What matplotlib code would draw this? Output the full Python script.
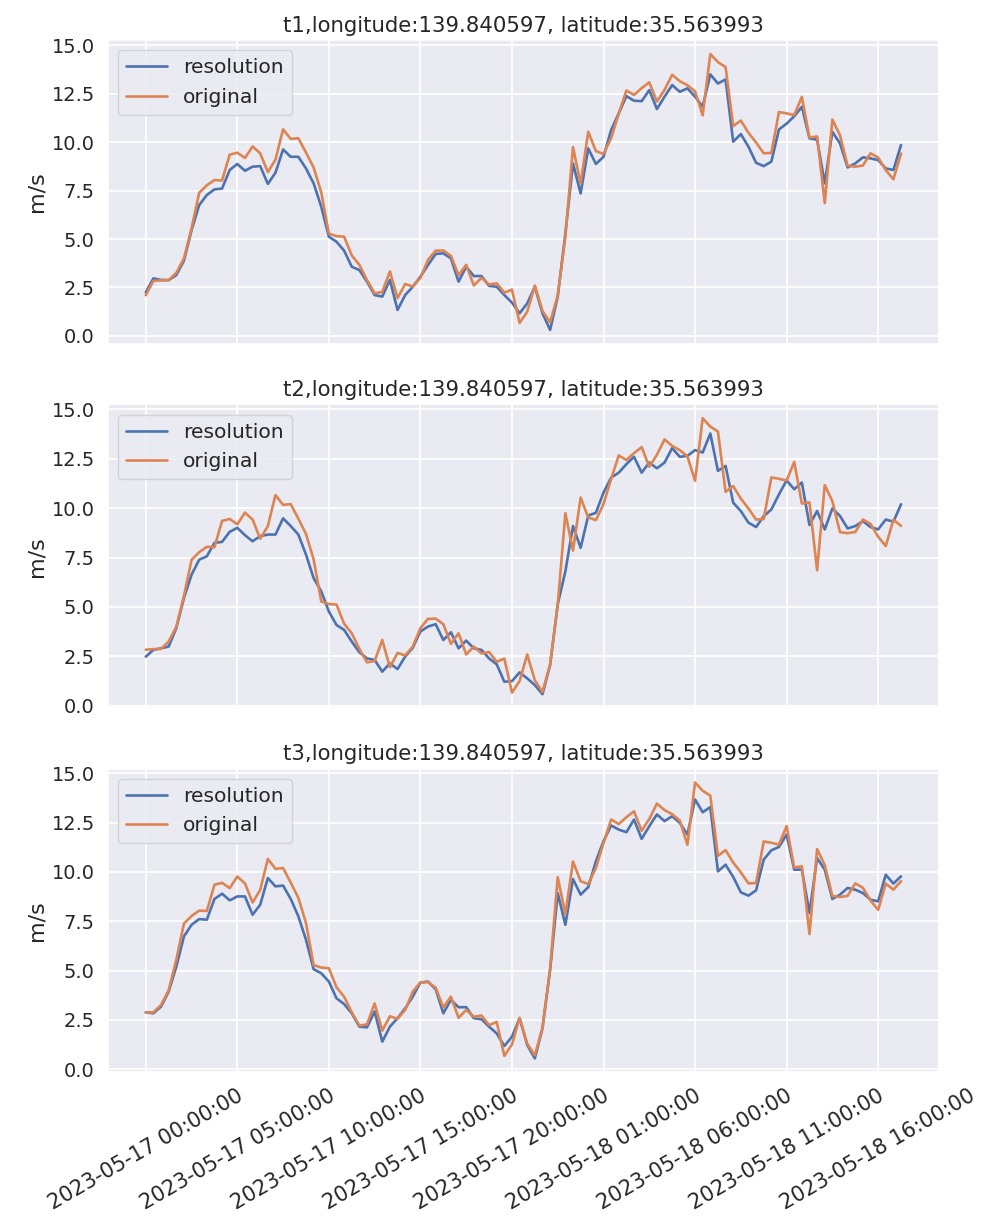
import numpy as np
import pandas as pd
import matplotlib
matplotlib.use("Agg")
import matplotlib.pyplot as plt
import seaborn as sns

# observed wind speed, one long run; each lead time sees it shifted by one step
original = [2.10, 2.84, 2.87, 2.88, 3.25, 4.00, 5.55, 7.38, 7.77, 8.04,
            8.02, 9.35, 9.45, 9.18, 9.77, 9.42, 8.45, 9.09, 10.66, 10.16,
            10.20, 9.46, 8.69, 7.41, 5.28, 5.15, 5.12, 4.15, 3.67, 2.88,
            2.20, 2.27, 3.33, 1.95, 2.68, 2.55, 3.00, 3.93, 4.40, 4.41,
            4.13, 3.13, 3.67, 2.60, 3.00, 2.65, 2.72, 2.23, 2.39, 0.67,
            1.25, 2.60, 1.29, 0.70, 2.10, 5.10, 9.74, 7.85, 10.53, 9.53,
            9.39, 10.20, 11.47, 12.66, 12.43, 12.78, 13.08, 12.09, 12.69, 13.47,
            13.14, 12.93, 12.61, 11.38, 14.54, 14.12, 13.87, 10.82, 11.11, 10.48,
            9.98, 9.42, 9.44, 11.55, 11.48, 11.39, 12.33, 10.23, 10.29, 6.85,
            11.16, 10.35, 8.78, 8.73, 8.79, 9.42, 9.20, 8.55, 8.08, 9.41,
            9.10, 9.53]

res_t1 = [2.25, 2.97, 2.89, 2.88, 3.14, 3.88, 5.46, 6.75, 7.27, 7.56,
          7.60, 8.56, 8.87, 8.52, 8.73, 8.76, 7.84, 8.42, 9.62, 9.24,
          9.24, 8.64, 7.87, 6.67, 5.12, 4.86, 4.40, 3.57, 3.40, 2.80,
          2.11, 2.03, 2.89, 1.34, 2.11, 2.54, 3.06, 3.66, 4.23, 4.26,
          4.00, 2.80, 3.57, 3.09, 3.09, 2.58, 2.54, 2.11, 1.72, 1.17,
          1.68, 2.54, 1.17, 0.31, 2.03, 5.29, 8.90, 7.35, 9.67, 8.87,
          9.24, 10.62, 11.48, 12.37, 12.13, 12.11, 12.68, 11.70, 12.34, 12.94,
          12.59, 12.77, 12.34, 11.82, 13.49, 13.02, 13.23, 10.02, 10.41, 9.76,
          8.93, 8.76, 8.99, 10.65, 10.95, 11.33, 11.82, 10.19, 10.12, 7.87,
          10.53, 9.93, 8.69, 8.90, 9.21, 9.16, 9.07, 8.64, 8.56, 9.85]

res_t2 = [2.49, 2.83, 2.91, 3.00, 3.93, 5.45, 6.63, 7.39, 7.56, 8.24,
          8.29, 8.80, 9.00, 8.63, 8.32, 8.58, 8.66, 8.66, 9.48, 9.09,
          8.66, 7.65, 6.46, 5.79, 4.77, 4.09, 3.84, 3.25, 2.71, 2.40,
          2.32, 1.73, 2.15, 1.86, 2.49, 2.94, 3.76, 4.01, 4.13, 3.33,
          3.72, 2.91, 3.30, 2.91, 2.83, 2.40, 2.10, 1.22, 1.25, 1.69,
          1.39, 1.05, 0.59, 2.06, 5.14, 6.80, 9.09, 7.99, 9.62, 9.76,
          10.78, 11.54, 11.79, 12.22, 12.59, 11.79, 12.30, 12.01, 12.30, 13.03,
          12.59, 12.64, 12.93, 12.81, 13.77, 11.88, 12.13, 10.27, 9.85, 9.26,
          9.04, 9.59, 9.93, 10.69, 11.40, 10.95, 11.29, 9.14, 9.85, 8.92,
          9.98, 9.60, 8.97, 9.09, 9.34, 9.04, 8.92, 9.42, 9.31, 10.19]

res_t3 = [2.88, 2.83, 3.17, 3.93, 5.20, 6.73, 7.32, 7.61, 7.58, 8.63,
          8.90, 8.56, 8.76, 8.76, 7.83, 8.34, 9.69, 9.27, 9.31, 8.63,
          7.75, 6.56, 5.07, 4.86, 4.44, 3.59, 3.30, 2.83, 2.15, 2.12,
          2.92, 1.39, 2.15, 2.58, 3.08, 3.68, 4.39, 4.44, 4.05, 2.83,
          3.51, 3.14, 3.14, 2.58, 2.53, 2.15, 1.81, 1.17, 1.64, 2.58,
          1.22, 0.54, 2.07, 5.03, 8.93, 7.32, 9.64, 8.85, 9.23, 10.54,
          11.56, 12.36, 12.15, 12.02, 12.66, 11.68, 12.32, 12.92, 12.58, 12.83,
          12.49, 11.90, 13.68, 13.03, 13.29, 10.03, 10.37, 9.75, 8.97, 8.80,
          9.07, 10.63, 11.10, 11.27, 11.90, 10.12, 10.12, 7.92, 10.71, 10.12,
          8.63, 8.85, 9.19, 9.10, 8.93, 8.59, 8.51, 9.86, 9.41, 9.78]

resolution = [res_t1, res_t2, res_t3]
n = len(res_t1)
times = pd.date_range("2023-05-17 00:00:00", periods=n, freq="25min")
tick_idx = list(range(0, n, 12))
tick_labels = [times[i].strftime("%Y-%m-%d %H:%M:%S") for i in tick_idx]

sns.set_theme(style="darkgrid", font_scale=1.27)
plt.rcParams["lines.linewidth"] = 1.9
plt.rcParams["grid.linewidth"] = 1.27
plt.rcParams["axes.titlesize"] = 15.3
plt.rcParams["axes.labelsize"] = 16
plt.rcParams["legend.fontsize"] = 14.6

fig, axes = plt.subplots(3, 1, sharex=True, figsize=(9.82, 12.19), dpi=100)
fig.subplots_adjust(left=0.110, right=0.956, top=0.967, bottom=0.1204, hspace=0.2)

for k, ax in enumerate(axes):
    ax.plot(times, resolution[k], label="resolution")
    ax.plot(times, original[k:k + n], label="original")
    ax.set_title("t%d,longitude:139.840597, latitude:35.563993" % (k + 1))
    ax.set_ylabel("m/s")
    ax.legend(loc="upper left")
    ax.set_xticks(times[tick_idx])
    ax.set_xticklabels(tick_labels)

plt.setp(axes[-1].get_xticklabels(), rotation=30, ha="center", fontsize=15)

fig.savefig("out.png", dpi=100)
